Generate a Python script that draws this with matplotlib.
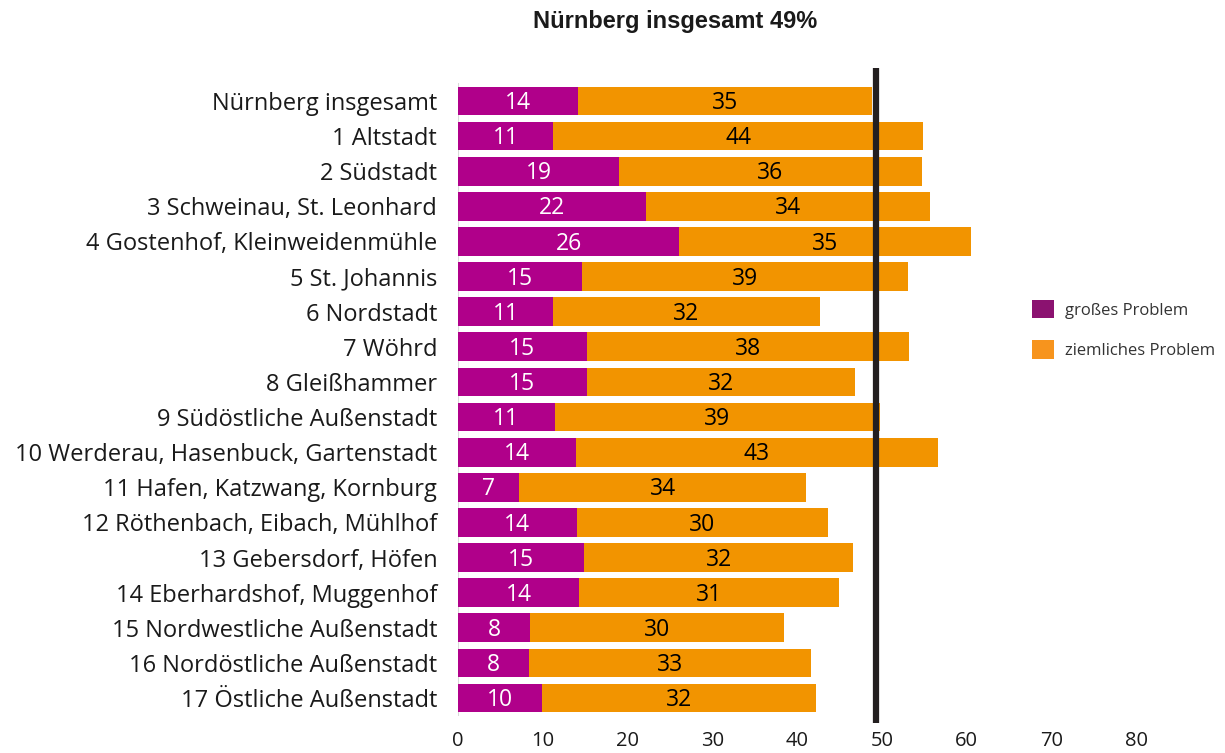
import matplotlib
matplotlib.use("Agg")
import matplotlib.pyplot as plt
from matplotlib.patches import Patch
import numpy as np

plt.rcParams['font.family'] = ['Open Sans', 'DejaVu Sans']

# Stadtteile, von oben nach unten
categories = [
    "Nürnberg insgesamt",
    "1 Altstadt",
    "2 Südstadt",
    "3 Schweinau, St. Leonhard",
    "4 Gostenhof, Kleinweidenmühle",
    "5 St. Johannis",
    "6 Nordstadt",
    "7 Wöhrd",
    "8 Gleißhammer",
    "9 Südöstliche Außenstadt",
    "10 Werderau, Hasenbuck, Gartenstadt",
    "11 Hafen, Katzwang, Kornburg",
    "12 Röthenbach, Eibach, Mühlhof",
    "13 Gebersdorf, Höfen",
    "14 Eberhardshof, Muggenhof",
    "15 Nordwestliche Außenstadt",
    "16 Nordöstliche Außenstadt",
    "17 Östliche Außenstadt",
]

# Balkenlaengen (ungerundet, aus dem Bild geschaetzt)
gross = [14.2, 11.2, 19.0, 22.2, 26.1, 14.6, 11.2, 15.2, 15.2, 11.4,
         13.9, 7.2, 14.0, 14.9, 14.3, 8.5, 8.4, 9.9]
ziemlich = [34.7, 43.7, 35.7, 33.5, 34.4, 38.5, 31.5, 38.0, 31.6, 38.4,
            42.7, 33.9, 29.7, 31.7, 30.7, 30.0, 33.3, 32.3]

# Beschriftungen (gerundet)
gross_labels = [14, 11, 19, 22, 26, 15, 11, 15, 15, 11, 14, 7, 14, 15, 14, 8, 8, 10]
ziemlich_labels = [35, 44, 36, 34, 35, 39, 32, 38, 32, 39, 43, 34, 30, 32, 31, 30, 33, 32]

gesamt_wert = 49
xticks = [0, 10, 20, 30, 40, 50, 60, 70, 80]

c_gross = "#B0008A"
c_ziemlich = "#F29400"

fig = plt.figure(figsize=(12.25, 7.53), dpi=100)
ax = fig.add_axes([0.3739, 0.0398, 0.5535, 0.870])

y = np.arange(len(categories))
gross = np.array(gross)
ziemlich = np.array(ziemlich)

ax.barh(y, gross, height=0.82, color=c_gross, edgecolor="none")
ax.barh(y, ziemlich, left=gross, height=0.82, color=c_ziemlich, edgecolor="none")

for i in range(len(categories)):
    ax.text(gross[i] / 2, y[i] + 0.06, str(gross_labels[i]), ha="center", va="center",
            color="white", fontsize=16.5)
    ax.text(gross[i] + ziemlich[i] / 2, y[i] + 0.06, str(ziemlich_labels[i]), ha="center",
            va="center", color="black", fontsize=16.5)

# Referenzlinie Nuernberg insgesamt
ax.axvline(gesamt_wert + 0.3, color="#231F20", linewidth=4.5, zorder=3)
ax.vlines(0, -0.5, len(categories) - 0.5, color="#D9D9D9", linewidth=1.5, zorder=0)

ax.set_xlim(0, 80)
ax.set_ylim(len(categories) - 0.29, -0.94)
ax.set_yticks(y)
ax.set_yticklabels(categories, fontsize=17, color="#1a1a1a")
ax.set_xticks(xticks)
ax.set_xticklabels([str(t) for t in xticks], fontsize=14.5, color="#1a1a1a")
ax.tick_params(axis="both", length=0)
ax.tick_params(axis="y", pad=15)
ax.tick_params(axis="x", pad=6)
for s in ax.spines.values():
    s.set_visible(False)

handles = [Patch(facecolor="#8B1270", edgecolor="none"),
           Patch(facecolor="#F7941D", edgecolor="none")]
leg = fig.legend(handles, ["großes Problem", "ziemliches Problem"],
                 loc="upper left", bbox_to_anchor=(0.830, 0.622), frameon=False,
                 fontsize=12, handlelength=1.35, handleheight=1.35,
                 labelspacing=1.3, handletextpad=0.65)
for t in leg.get_texts():
    t.set_color("#333333")

fig.text(0.551, 0.971, "Nürnberg insgesamt 49%", ha="center", va="center",
         fontsize=17, fontweight="bold", family="Liberation Sans", color="#1a1a1a")

fig.savefig("out.png", dpi=100)
